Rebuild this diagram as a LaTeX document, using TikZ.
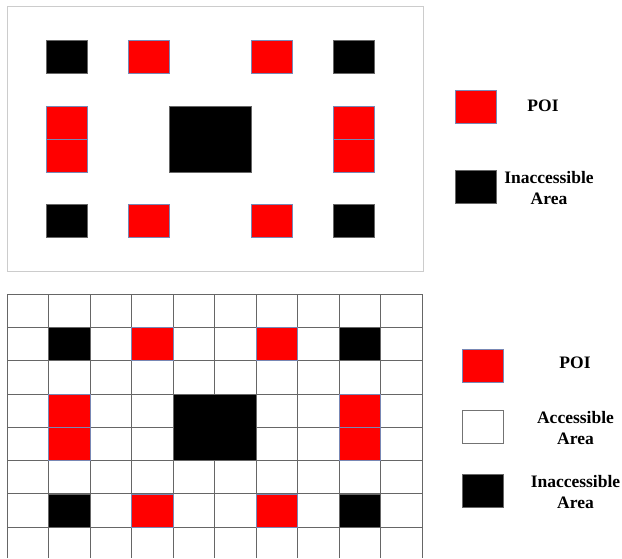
\documentclass[tikz,border=0pt]{standalone}
\usepackage{fontspec}
\setmainfont{Liberation Serif}
\usepackage{xcolor}
\usetikzlibrary{positioning}

\definecolor{poiedge}{RGB}{120,135,180}

\begin{document}
\begin{tikzpicture}[
    x=1pt, y=-1pt,
    cell/.style={draw, rectangle, inner sep=0pt, outer sep=0pt, minimum width=41pt, minimum height=33pt},
    poi/.style={cell, fill=red, draw=poiedge, line width=0.5pt},
    blocked/.style={cell, fill=black, draw=black!60, line width=0.5pt},
    free/.style={cell, fill=white, draw=black!55, line width=0.8pt},
    legtext/.style={align=center, font=\bfseries\fontsize{17.5}{21}\selectfont}
]
\useasboundingbox (0,0) rectangle (622,558);

% top panel
\draw[black!20, line width=1pt] (7,6) rectangle (423,271);
\node[blocked] (tb1) at (66.5,56.5) {};
\node[poi] (tp1) at (148.5,56.5) {};
\node[poi] (tp2) at (271.5,56.5) {};
\node[blocked] (tb2) at (353.5,56.5) {};
\node[poi] (tp3) at (66.5,122.5) {};
\node[poi] (tp4) at (66.5,155.5) {};
\node[blocked, minimum width=82pt, minimum height=66pt] (tb5) at (210,139) {};
\node[poi] (tp5) at (353.5,122.5) {};
\node[poi] (tp6) at (353.5,155.5) {};
\node[blocked] (tb3) at (66.5,221) {};
\node[poi] (tp7) at (148.5,221) {};
\node[poi] (tp8) at (271.5,221) {};
\node[blocked] (tb4) at (353.5,221) {};

% top legend
\node[poi] (tlpoi) at (476,107) {};
\node[legtext] (tlpoitext) at (543,106) {POI};
\node[blocked] (tlblk) at (476,186.5) {};
\node[legtext] (tlblktext) at (549,188) {Inaccessible\\Area};

% bottom grid
\foreach \c in {0,...,10}
    \draw[black!60, line width=0.8pt] (7+41.5*\c,294) -- (7+41.5*\c,558);
\foreach \r in {0,...,7}
    \draw[black!60, line width=0.8pt] (7,294+33.3*\r) -- (422,294+33.3*\r);
\foreach \c/\r in {3/1,6/1,1/3,1/4,8/3,8/4,3/6,6/6}
    \node[poi, minimum width=41.5pt, minimum height=33.3pt] (bp-\c-\r) at (27.75+41.5*\c,310.65+33.3*\r) {};
\foreach \c/\r in {1/1,8/1,1/6,8/6}
    \node[blocked, minimum width=41.5pt, minimum height=33.3pt] (bb-\c-\r) at (27.75+41.5*\c,310.65+33.3*\r) {};
\node[blocked, minimum width=83pt, minimum height=66.6pt] (bb-mid) at (214.5,427.2) {};

% bottom legend
\node[poi] (blpoi) at (483,365.5) {};
\node[legtext] (blpoitext) at (575,363) {POI};
\node[free] (blfree) at (483,427) {};
\node[legtext] (blfreetext) at (575.5,428) {Accessible\\Area};
\node[blocked] (blblk) at (483,491) {};
\node[legtext] (blblktext) at (575.5,492) {Inaccessible\\Area};
\end{tikzpicture}
\end{document}
